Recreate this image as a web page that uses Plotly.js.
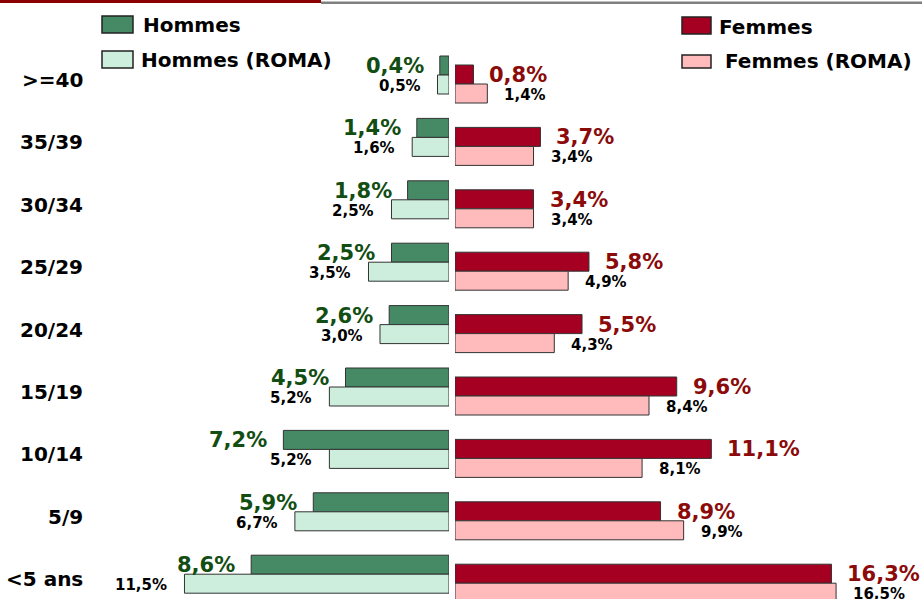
<!DOCTYPE html>
<html>
<head>
<meta charset="utf-8">
<script src="https://cdn.plot.ly/plotly-3.0.1.min.js"></script>
<style>
html,body{margin:0;padding:0;background:#fff;}
#chart{width:922px;height:599px;}
</style>
</head>
<body>
<div id="chart"></div>
<script>
const categories = ['>=40','35/39','30/34','25/29','20/24','15/19','10/14','5/9','<5 ans'];
const hommes     = [0.4, 1.4, 1.8, 2.5, 2.6, 4.5, 7.2, 5.9, 8.6];
const hommesRoma = [0.5, 1.6, 2.5, 3.5, 3.0, 5.2, 5.2, 6.7, 11.5];
const femmes     = [0.8, 3.7, 3.4, 5.8, 5.5, 9.6, 11.1, 8.9, 16.3];
const femmesRoma = [1.4, 3.4, 3.4, 4.9, 4.3, 8.4, 8.1, 9.9, 16.5];
const legendNames = ['Hommes','Hommes (ROMA)','Femmes','Femmes (ROMA)'];

const W = 922, H = 599;
const FONT = 'DejaVu Sans, Verdana, sans-serif';
const fmt = v => v.toFixed(1).replace('.', ',') + '%';
const BW = 19 / 62.4;

const cDarkG = '#458A64', cLightG = '#CDEEDD', cDarkR = '#A50021', cLightR = '#FFBBBB';
const line = {color:'#333333', width:1};

function barTrace(vals, name, color, xa, ya, offset){
  return {type:'bar', orientation:'h', name:name, x:vals, y:categories,
    xaxis:xa, yaxis:ya, width:BW, offset:offset,
    marker:{color:color, line:line}, hoverinfo:'skip', showlegend:false};
}

const data = [
  barTrace(hommes, legendNames[0], cDarkG, 'x', 'y', -BW),
  barTrace(hommesRoma, legendNames[1], cLightG, 'x', 'y', 0),
  barTrace(femmes, legendNames[2], cDarkR, 'x2', 'y2', -BW),
  barTrace(femmesRoma, legendNames[3], cLightR, 'x2', 'y2', 0)
];

const annotations = [];
categories.forEach((c, i) => {
  annotations.push({xref:'paper', x:85/W, xanchor:'right', yref:'y', y:c, yshift:-5,
    text:c, showarrow:false, font:{family:FONT, size:20, weight:'bold', color:'#000'}});
  annotations.push({xref:'x', x:hommes[i], xanchor:'right', xshift:-14, yref:'y', y:c, yshift:9,
    text:fmt(hommes[i]), showarrow:false, font:{family:FONT, size:21, weight:'bold', color:'#124D12'}});
  annotations.push({xref:'x', x:hommesRoma[i], xanchor:'right', xshift:-15, yref:'y', y:c, yshift:-11,
    text:fmt(hommesRoma[i]), showarrow:false, font:{family:FONT, size:15, weight:'bold', color:'#000'}});
  annotations.push({xref:'x2', x:femmes[i], xanchor:'left', xshift:14, yref:'y2', y:c, yshift:9,
    text:fmt(femmes[i]), showarrow:false, font:{family:FONT, size:21, weight:'bold', color:'#8B0A0A'}});
  annotations.push({xref:'x2', x:femmesRoma[i], xanchor:'left', xshift:15, yref:'y2', y:c, yshift:-11,
    text:fmt(femmesRoma[i]), showarrow:false, font:{family:FONT, size:15, weight:'bold', color:'#000'}});
});

// legend
const px = v => v / W, py = v => 1 - v / H;
const legendItems = [
  {x0:102, x1:133, y0:16, y1:33, color:cDarkG, tx:141, ty:25, name:legendNames[0]},
  {x0:102, x1:133, y0:51, y1:68, color:cLightG, tx:139, ty:60, name:legendNames[1]},
  {x0:682, x1:711, y0:17, y1:34, color:cDarkR, tx:717, ty:27, name:legendNames[2]},
  {x0:682, x1:711, y0:55, y1:68, color:cLightR, tx:723, ty:61, name:legendNames[3]}
];
const shapes = [
  {type:'rect', xref:'paper', yref:'paper', x0:0, x1:px(321), y0:py(3), y1:py(0), fillcolor:'#8B0000', line:{width:0}},
  {type:'rect', xref:'paper', yref:'paper', x0:px(321), x1:1, y0:py(4), y1:py(1.5), fillcolor:'#808080', line:{width:0}}
];
legendItems.forEach(it => {
  shapes.push({type:'rect', xref:'paper', yref:'paper', x0:px(it.x0), x1:px(it.x1), y0:py(it.y1), y1:py(it.y0),
    fillcolor:it.color, line:{color:'#222', width:1.5}});
  annotations.push({xref:'paper', yref:'paper', x:px(it.tx), y:py(it.ty), xanchor:'left', yanchor:'middle',
    text:it.name, showarrow:false, font:{family:FONT, size:20, weight:'bold', color:'#000'}});
});

const hidden = {showgrid:false, zeroline:false, showticklabels:false, showline:false, ticks:'', fixedrange:true};
const layout = {
  width:W, height:H, margin:{l:0, r:0, t:0, b:0},
  paper_bgcolor:'#fff', plot_bgcolor:'rgba(0,0,0,0)',
  barmode:'overlay', showlegend:false,
  xaxis:Object.assign({domain:[0, 449/W], range:[19.52, 0], anchor:'y'}, hidden),
  xaxis2:Object.assign({domain:[455/W, 1], range:[0, 20.22], anchor:'y2'}, hidden),
  yaxis:Object.assign({type:'category', categoryorder:'array', categoryarray:categories,
    range:[(H-75)/62.4, -75/62.4], anchor:'x', domain:[0,1]}, hidden),
  yaxis2:Object.assign({type:'category', categoryorder:'array', categoryarray:categories,
    range:[(H-84)/62.4, -84/62.4], anchor:'x2', domain:[0,1]}, hidden),
  shapes:shapes, annotations:annotations, font:{family:FONT}
};
Plotly.newPlot('chart', data, layout, {displayModeBar:false, staticPlot:true});
</script>
</body>
</html>
